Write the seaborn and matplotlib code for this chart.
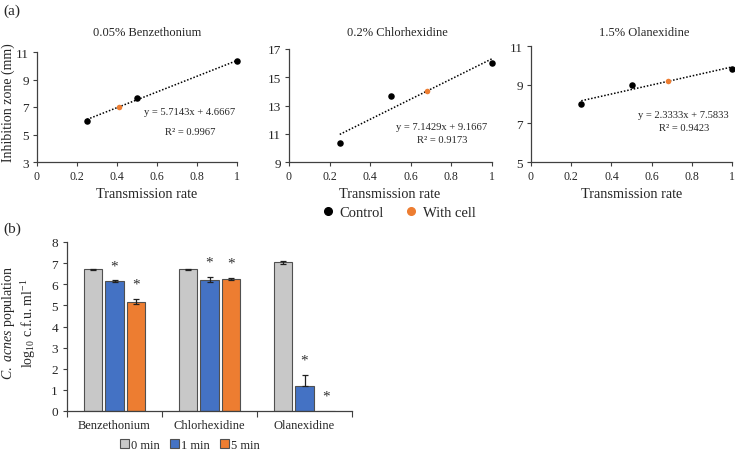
import numpy as np
import pandas as pd
import matplotlib
matplotlib.use("Agg")
import matplotlib.pyplot as plt
import seaborn as sns
from matplotlib.lines import Line2D
from matplotlib.patches import Patch

sns.set_theme(style="white")
plt.rcParams['font.family'] = ['Liberation Serif', 'DejaVu Serif']
plt.rcParams['mathtext.fontset'] = 'custom'
plt.rcParams['mathtext.rm'] = 'Liberation Serif'
plt.rcParams['mathtext.it'] = 'Liberation Serif:italic'

# ---------------- data (a) ----------------
titles = ["0.05% Benzethonium", "0.2% Chlorhexidine", "1.5% Olanexidine"]
control_x = [0.25, 0.5, 1.0]
control_y = [[6.0, 7.67, 10.33], [10.33, 13.67, 16.0], [8.0, 9.0, 9.83]]
cell_x = [0.41, 0.68, 0.68]
cell_y = [7.0, 14.0, 9.17]
slopes = [5.7143, 7.1429, 2.3333]
intercepts = [4.6667, 9.1667, 7.5833]
r2 = [0.9967, 0.9173, 0.9423]
ylims = [(3, 11), (9, 17), (5, 11)]
yticks = [[3, 5, 7, 9, 11], [9, 11, 13, 15, 17], [5, 7, 9, 11]]
eq_pos = [(0.765, 6.7, 5.25), (0.754, 11.5, 10.56), (0.76, 7.48, 6.81)]

# ---------------- data (b) ----------------
agents = ["Benzethonium", "Chlorhexidine", "Olanexidine"]
times = ["0 min", "1 min", "5 min"]
vals = {"0 min": [6.70, 6.70, 7.05], "1 min": [6.15, 6.22, 1.20], "5 min": [5.18, 6.25, 0.0]}
err_hi = {"0 min": [0.03, 0.03, 0.07], "1 min": [0.03, 0.12, 0.50], "5 min": [0.12, 0.03, 0.0]}
err_lo = {"0 min": [0.03, 0.03, 0.07], "1 min": [0.03, 0.12, 0.0], "5 min": [0.12, 0.03, 0.0]}
signif = {"0 min": [False, False, False], "1 min": [True, True, True], "5 min": [True, True, True]}

W, H = 735, 452
fig = plt.figure(figsize=(W / 100, H / 100), dpi=100)

def rect(l, t, r, b):
    return [l / W, 1 - b / H, (r - l) / W, (b - t) / H]

axc = '#404040'
orange = '#ED7D31'
blue = '#4472C4'
gray = '#C8C8C8'

a_rects = [rect(37, 53, 237, 163), rect(289, 50, 492, 163), rect(531, 47, 732, 163)]
title_x = [147, 397, 644]
xlab_x = [147, 390, 632]
for i in range(3):
    ax = fig.add_axes(a_rects[i])
    df = pd.DataFrame({
        "x": control_x + [cell_x[i]],
        "y": control_y[i] + [cell_y[i]],
        "g": ["Control"] * 3 + ["With cell"],
    })
    xs = np.array([min(control_x), max(control_x)])
    ax.plot(xs, slopes[i] * xs + intercepts[i], ls=(0, (1, 1.2)), color='black', lw=1.1,
            zorder=1, clip_on=False)
    sns.scatterplot(data=df[df.g == "Control"], x="x", y="y", color='black', s=22,
                    edgecolor='black', linewidth=0, ax=ax, legend=False, zorder=3, clip_on=False)
    sns.scatterplot(data=df[df.g == "With cell"], x="x", y="y", color=orange, s=16,
                    edgecolor=orange, linewidth=0, ax=ax, legend=False, zorder=3, clip_on=False)
    ax.set_xlim(0, 1)
    ax.set_ylim(*ylims[i])
    ax.set_yticks(yticks[i])
    ax.set_xticks([0, 0.2, 0.4, 0.6, 0.8, 1.0])
    ax.set_xticklabels(["0", "0.2", "0.4", "0.6", "0.8", "1"])
    ax.set_xlabel("")
    ax.set_ylabel("")
    for s in ["top", "right"]:
        ax.spines[s].set_visible(False)
    for s in ["left", "bottom"]:
        ax.spines[s].set_color(axc)
        ax.spines[s].set_linewidth(0.9)
    ax.tick_params(axis='both', direction='out', length=3, width=0.8, color=axc,
                   labelsize=8.5, pad=3, left=True, bottom=True)
    ax.tick_params(axis='y', labelsize=9.5)
    ex, ey1, ey2 = eq_pos[i]
    ax.text(ex, ey1, f"y = {slopes[i]:.4f}x + {intercepts[i]:.4f}", ha='center', va='center', fontsize=7.6)
    ax.text(ex, ey2, f"R² = {r2[i]:.4f}", ha='center', va='center', fontsize=7.6)
    fig.text(title_x[i] / W, 1 - 33 / H, titles[i], ha='center', va='center', fontsize=9)
    fig.text(xlab_x[i] / W, 1 - 195 / H, "Transmission rate", ha='center', va='center', fontsize=10.3)

fig.text(8 / W, 1 - 103 / H, "Inhibition zone (mm)", rotation=90, ha='center', va='center', fontsize=10)
fig.text(3 / W, 1 - 11 / H, "(a)", ha='left', va='center', fontsize=11)
fig.text(3 / W, 1 - 229 / H, "(b)", ha='left', va='center', fontsize=11)

handles = [Line2D([], [], marker='o', ls='', color='black', markersize=5.5),
           Line2D([], [], marker='o', ls='', color=orange, markersize=5.5)]
fig.legend(handles, ["Control", "With cell"], loc='center', bbox_to_anchor=(398 / W, 1 - 213 / H),
           ncol=2, frameon=False, fontsize=10.5, handletextpad=0.3, columnspacing=1.4, handlelength=1.0)

# ---------------- panel (b) ----------------
axb = fig.add_axes(rect(67, 243, 352, 412))
dfb = pd.DataFrame([(a, t, vals[t][j]) for t in times for j, a in enumerate(agents)],
                   columns=["agent", "time", "value"])
sns.barplot(data=dfb, x="agent", y="value", hue="time", order=agents, hue_order=times,
            palette=[gray, blue, orange], saturation=1, width=0.68, gap=0.15, errorbar=None,
            edgecolor='#505050', linewidth=0.8, ax=axb, legend=False)
for h, t in enumerate(times):
    cont = axb.containers[h]
    for j, bar in enumerate(cont):
        cx = bar.get_x() + bar.get_width() / 2
        top = bar.get_height()
        if err_hi[t][j] > 0 or err_lo[t][j] > 0:
            axb.errorbar(cx, top, yerr=[[err_lo[t][j]], [err_hi[t][j]]], fmt='none',
                         ecolor='#202020', elinewidth=0.9, capsize=2.5, capthick=0.9, zorder=4)
        if signif[t][j]:
            axb.annotate("*", (cx, top + err_hi[t][j]), xytext=(0, 6), textcoords='offset points',
                         ha='center', va='bottom', fontsize=11, color='#303030')
axb.set_xlim(-0.5, 2.5)
axb.set_ylim(0, 8)
axb.set_yticks(range(0, 9))
axb.set_xticks([-0.5, 0.5, 1.5, 2.5], minor=True)
axb.set_xlabel("")
axb.set_ylabel("")
for s in ["top", "right"]:
    axb.spines[s].set_visible(False)
for s in ["left", "bottom"]:
    axb.spines[s].set_color(axc)
    axb.spines[s].set_linewidth(0.9)
axb.tick_params(axis='y', direction='out', length=3, width=0.8, color=axc, labelsize=9.5, left=True)
axb.tick_params(axis='x', which='major', length=0, labelsize=9, pad=6)
axb.tick_params(axis='x', which='minor', direction='out', length=4, width=0.8, color=axc, bottom=True)

fig.text(19 / W, 1 - 323 / H, "$\\mathit{C.\\ acnes}$ population\nlog$_{10}$ c.f.u. ml$^{-1}$",
         rotation=90, ha='center', va='center', fontsize=10, multialignment='center', linespacing=1.2)

lh = [Patch(facecolor=c, edgecolor='#505050', linewidth=0.8) for c in [gray, blue, orange]]
fig.legend(lh, times, loc='center', bbox_to_anchor=(190 / W, 1 - 446 / H), ncol=3, frameon=False,
           fontsize=9, handlelength=0.7, handleheight=0.7, handletextpad=0.2, columnspacing=0.8)

fig.savefig("out.png", dpi=100)
